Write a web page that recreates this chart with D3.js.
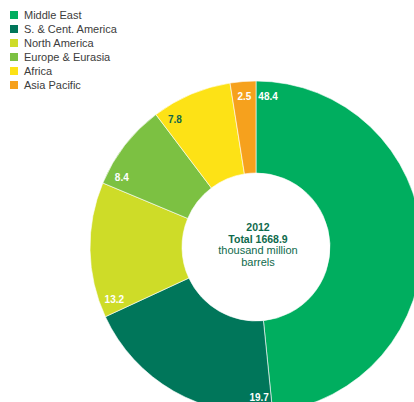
<!DOCTYPE html>
<html>
<head>
<meta charset="utf-8">
<script src="https://cdn.jsdelivr.net/npm/d3@7"></script>
<style>
  body { margin: 0; background: #fff; }
  svg { display: block; font-family: "Liberation Sans", Arial, sans-serif; }
</style>
</head>
<body>
<svg width="414" height="402"></svg>
<script>
// proved reserves by region, 2012 (share %)
const regions = ["Middle East", "S. & Cent. America", "North America", "Europe & Eurasia", "Africa", "Asia Pacific"];
const shares = [48.4, 19.7, 13.2, 8.4, 7.8, 2.5];
const colors = ["#00ae5f", "#00765a", "#cedc28", "#7cc142", "#fde216", "#f6a11d"];
const labelColors = ["#fff", "#fff", "#fff", "#fff", "#12684c", "#fff"];
const centerLines = ["2012", "Total 1668.9", "thousand million", "barrels"];

document.addEventListener("DOMContentLoaded", function(){
    let svg = d3.select("svg");
    let cx = 256, cy = 247;
    let outerR = 166, innerR = 74;

    let data = regions.map((r, i) => ({name: r, value: shares[i]}));

    let pie = d3.pie()
        .value(d => d.value)
        .sort(null);
    let arcs = pie(data);

    let arc = d3.arc()
        .innerRadius(innerR)
        .outerRadius(outerR);

    let g = svg.append("g")
        .attr("transform", `translate(${cx},${cy})`);

    g.selectAll("path")
        .data(arcs)
        .enter().append("path")
        .attr("d", arc)
        .style("fill", (d, i) => colors[i])
        .style("stroke", "#fff")
        .style("stroke-width", 0.6);

    // value labels sit just past the start of each slice
    let labelR = 151;
    g.selectAll("text.val")
        .data(arcs)
        .enter().append("text")
        .attr("class", "val")
        .attr("x", d => labelR * Math.sin(d.startAngle + 0.08))
        .attr("y", d => -labelR * Math.cos(d.startAngle + 0.08))
        .attr("dy", "0.35em")
        .attr("text-anchor", "middle")
        .style("font-size", "10px")
        .style("font-weight", "bold")
        .style("fill", (d, i) => labelColors[i])
        .text(d => d.data.value.toFixed(1));

    // centre text
    let ct = g.append("text")
        .attr("text-anchor", "middle")
        .style("fill", "#0f6a4c");
    centerLines.forEach((t, i) => {
        ct.append("tspan")
            .attr("x", 2)
            .attr("y", -16 + i * 11.7)
            .style("font-size", i < 2 ? "10.5px" : "11px")
            .style("font-weight", i < 2 ? "bold" : "normal")
            .text(t);
    });

    // legend
    let legend = svg.append("g")
        .attr("transform", "translate(10,11)");
    let items = legend.selectAll("g")
        .data(regions)
        .enter().append("g")
        .attr("transform", (d, i) => `translate(0,${i * 14})`);
    items.append("rect")
        .attr("width", 8)
        .attr("height", 8)
        .style("fill", (d, i) => colors[i]);
    items.append("text")
        .attr("x", 14)
        .attr("y", 4)
        .attr("dy", "0.35em")
        .style("font-size", "11px")
        .style("fill", "#3c3c3c")
        .text(d => d);
});
</script>
</body>
</html>
